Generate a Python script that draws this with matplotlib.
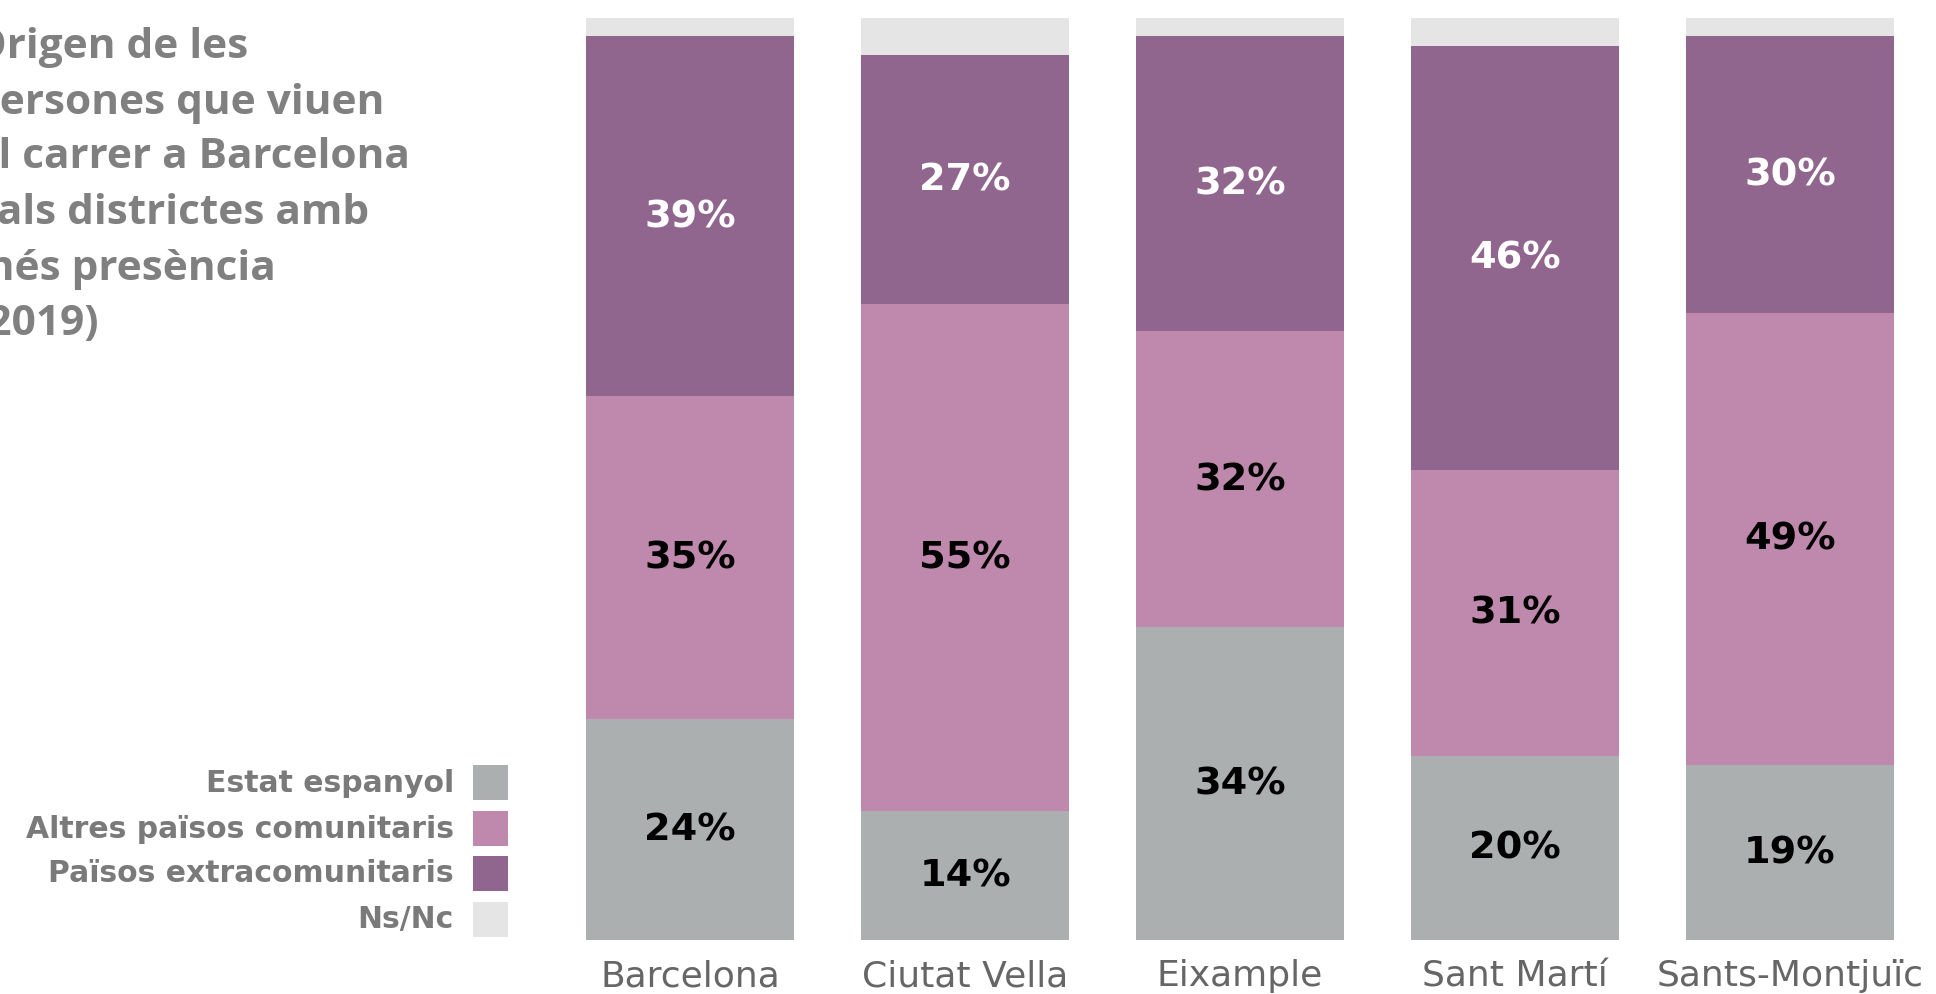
import matplotlib
matplotlib.use("Agg")
import matplotlib.pyplot as plt
from matplotlib.patches import Rectangle

# ---- data ----
districts = ["Barcelona", "Ciutat Vella", "Eixample", "Sant Martí", "Sants-Montjuïc"]
estat_espanyol = [24, 14, 34, 20, 19]
altres_comunitaris = [35, 55, 32, 31, 49]
extracomunitaris = [39, 27, 32, 46, 30]
ns_nc = [2, 4, 2, 3, 2]
series_names = ["Estat espanyol", "Altres països comunitaris", "Països extracomunitaris", "Ns/Nc"]
title_lines = ["Origen de les", "persones que viuen", "al carrer a Barcelona",
               "i als districtes amb", "més presència", "(2019)"]

colors = ["#abafb0", "#bf88ad", "#91668e", "#e5e5e5"]
label_colors = ["black", "black", "white", None]

W, H = 1936, 995
fig = plt.figure(figsize=(W / 100, H / 100), dpi=100)
fig.patch.set_facecolor("white")

# axes geometry (pixels)
ax_left, ax_right = 552.5, 1927.5
ax_bottom_px, ax_top_px = 941, 19
ax = fig.add_axes([ax_left / W, (H - ax_bottom_px) / H,
                   (ax_right - ax_left) / W, (ax_bottom_px - ax_top_px) / H])

series = [estat_espanyol, altres_comunitaris, extracomunitaris, ns_nc]
x = list(range(len(districts)))
bottom = [0] * len(districts)
for vals, col, lc in zip(series, colors, label_colors):
    ax.bar(x, vals, bottom=bottom, width=0.756, color=col, linewidth=0)
    if lc is not None:
        for i, v in enumerate(vals):
            ax.text(i, bottom[i] + v / 2, f"{v}%", ha="center", va="center",
                    color=lc, fontsize=27.5, fontweight="bold", family="DejaVu Sans")
    bottom = [b + v for b, v in zip(bottom, vals)]

ax.set_xlim(-0.5, len(districts) - 0.5)
ax.set_ylim(0, 100)
ax.set_yticks([])
ax.set_xticks(x)
ax.set_xticklabels(districts, fontsize=26, color="#666666", family="DejaVu Sans")
ax.tick_params(axis="x", length=0, pad=13)
for s in ax.spines.values():
    s.set_visible(False)
ax.patch.set_alpha(0)

# ---- title ----
title_y = [47, 103, 158, 214, 269, 325]
for line, yy in zip(title_lines, title_y):
    fig.text(-27 / W, 1 - yy / H, line, ha="left", va="center", fontsize=30.5,
             fontweight="bold", color="#808080", family="Open Sans")

# ---- legend ----
leg_y = [783, 829, 874, 920]
sq = 35
for name, col, yy in zip(series_names, colors, leg_y):
    fig.patches.append(Rectangle((473 / W, 1 - (yy + sq / 2) / H), sq / W, sq / H,
                                 transform=fig.transFigure, facecolor=col,
                                 edgecolor="none"))
    fig.text(454 / W, 1 - yy / H, name, ha="right", va="center", fontsize=21.5,
             fontweight="heavy", color="#7a7a7a", family="DejaVu Sans")

fig.savefig("out.png", dpi=100)
